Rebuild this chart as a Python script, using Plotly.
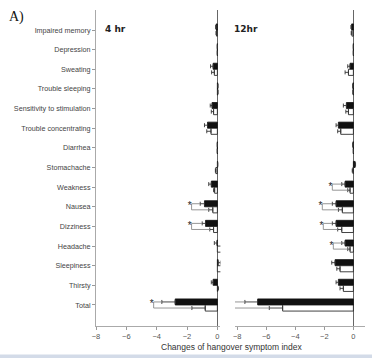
import plotly.graph_objects as go

W, H = 372, 358

categories = ["Impaired memory", "Depression", "Sweating", "Trouble sleeping",
              "Sensitivity to stimulation", "Trouble concentrating", "Diarrhea",
              "Stomachache", "Weakness", "Nausea", "Dizziness", "Headache",
              "Sleepiness", "Thirsty", "Total"]

# 4 hr panel
hr4_black = [-0.08, 0, -0.28, 0.03, -0.35, -0.65, 0, 0.02, -0.40, -0.85, -0.78, -0.02, 0.05, -0.28, -2.78]
hr4_black_err = [0.03, 0, 0.17, 0.0, 0.12, 0.20, 0, 0.0, 0.17, 0.28, 0.22, 0.18, 0.15, 0.12, 0.88]
hr4_white = [-0.06, 0, -0.20, 0.03, -0.25, -0.42, 0, -0.10, -0.18, -0.30, -0.25, 0.35, 0.38, 0.02, -0.80]
hr4_white_err = [0.03, 0, 0.18, 0.0, 0.15, 0.28, 0, 0.03, 0.07, 0.27, 0.25, 0.15, 0.17, 0.05, 0.88]
hr4_sig = {"Nausea": -1.7, "Dizziness": -1.7, "Total": -4.2}

# 12 hr panel
hr12_black = [-0.12, 0, -0.23, -0.03, -0.48, -1.03, -0.03, 0.12, -0.57, -1.19, -1.19, -0.57, -1.26, -1.03, -6.59]
hr12_black_err = [0.05, 0, 0.16, 0.0, 0.21, 0.16, 0, 0.03, 0.23, 0.26, 0.26, 0.23, 0.23, 0.16, 0.88]
hr12_white = [-0.10, 0, -0.34, -0.02, -0.34, -0.87, 0, -0.03, -0.23, -0.76, -0.80, -0.23, -0.92, -0.69, -4.87]
hr12_white_err = [0.05, 0, 0.23, 0.0, 0.18, 0.21, 0, 0.05, 0.16, 0.27, 0.28, 0.16, 0.22, 0.23, 0.92]
hr12_sig = {"Weakness": -1.45, "Nausea": -2.14, "Dizziness": -2.07, "Headache": -1.38, "Total": -8.2}

x_ticks = [-8, -6, -4, -2, 0]
x_title = "Changes of hangover symptom index"

idx = list(range(len(categories)))
BW = 0.31

def err(vals, errs):
    plus = [e if v > 0 else 0 for v, e in zip(vals, errs)]
    minus = [e if v <= 0 else 0 for v, e in zip(vals, errs)]
    return dict(type="data", symmetric=False, array=plus, arrayminus=minus,
                color="#333", thickness=0.9, width=2)

fig = go.Figure()

panels = [("x", "y", hr4_black, hr4_black_err, hr4_white, hr4_white_err, hr4_sig),
          ("x2", "y2", hr12_black, hr12_black_err, hr12_white, hr12_white_err, hr12_sig)]

for xa, ya, bv, be, wv, we, sig in panels:
    fig.add_trace(go.Bar(x=bv, y=idx, orientation="h", width=BW, offset=-BW,
                         marker=dict(color="#111", line=dict(color="#111", width=0.8)),
                         error_x=err(bv, be), xaxis=xa, yaxis=ya, showlegend=False,
                         cliponaxis=False))
    fig.add_trace(go.Bar(x=wv, y=idx, orientation="h", width=BW, offset=0,
                         marker=dict(color="white", line=dict(color="#111", width=0.8)),
                         error_x=err(wv, we), xaxis=xa, yaxis=ya, showlegend=False,
                         cliponaxis=False))
    for cat, bx in sig.items():
        i = categories.index(cat)
        b_end = bv[i] - be[i]
        w_end = wv[i] - we[i]
        fig.add_trace(go.Scatter(x=[b_end, bx, bx, w_end],
                                 y=[i - BW / 2, i - BW / 2, i + BW / 2, i + BW / 2],
                                 mode="lines", line=dict(color="#8a8a8a", width=0.9),
                                 xaxis=xa, yaxis=ya, showlegend=False, cliponaxis=False,
                                 hoverinfo="skip"))
        fig.add_trace(go.Scatter(x=[bx], y=[i], mode="text", text=["*"],
                                 textposition="middle left",
                                 textfont=dict(size=10, color="#222", family="Liberation Sans"),
                                 xaxis=xa, yaxis=ya, showlegend=False, cliponaxis=False,
                                 hoverinfo="skip"))

def px_x(p):
    return p / W

def px_y(p):
    return 1 - p / H

ydom = [px_y(326), px_y(10)]
yrange = [15.07, -1.02]

axis_font = dict(family="Liberation Sans", size=7.5, color="#555")

fig.update_layout(
    width=W, height=H, margin=dict(l=0, r=0, t=0, b=0, autoexpand=False),
    paper_bgcolor="white", plot_bgcolor="white", barmode="overlay",
    xaxis=dict(domain=[px_x(96), px_x(220.4)], range=[-8, 0.2], tickvals=x_ticks,
               ticks="outside", ticklen=3, tickcolor="#999", showline=True,
               linecolor="#aaa", linewidth=1, showgrid=False, zeroline=True,
               zerolinecolor="#666", zerolinewidth=1, tickfont=axis_font, automargin=False),
    xaxis2=dict(domain=[px_x(235), px_x(365)], range=[-8.15, 0.8], tickvals=x_ticks,
                ticks="outside", ticklen=3, tickcolor="#999", showline=True,
                linecolor="#aaa", linewidth=1, showgrid=False, zeroline=True,
                zerolinecolor="#666", zerolinewidth=1, tickfont=axis_font, automargin=False),
    yaxis=dict(domain=ydom, range=yrange, tickvals=idx, ticktext=categories,
               ticks="outside", ticklen=3, tickcolor="#999", showline=True,
               linecolor="#aaa", linewidth=1, showgrid=False, zeroline=False,
               tickfont=dict(family="Liberation Sans", size=7.2, color="#444"),
               anchor="x", automargin=False),
    yaxis2=dict(domain=ydom, range=yrange, tickvals=idx, showticklabels=False,
                ticks="", showline=False, showgrid=False, zeroline=False, anchor="x2",
                automargin=False),
    font=dict(family="Liberation Sans"),
    annotations=[
        dict(text="A)", x=px_x(7), y=px_y(17), xref="paper", yref="paper",
             xanchor="left", yanchor="middle", showarrow=False,
             font=dict(family="Liberation Serif", size=14, color="#111")),
        dict(text="<b>4 hr</b>", x=px_x(103), y=px_y(29), xref="paper", yref="paper",
             xanchor="left", yanchor="middle", showarrow=False,
             font=dict(family="DejaVu Sans", size=9, color="#222")),
        dict(text="<b>12hr</b>", x=px_x(232), y=px_y(29), xref="paper", yref="paper",
             xanchor="left", yanchor="middle", showarrow=False,
             font=dict(family="DejaVu Sans", size=9, color="#222")),
        dict(text=x_title, x=px_x(232), y=px_y(347), xref="paper", yref="paper",
             xanchor="center", yanchor="middle", showarrow=False,
             font=dict(family="Liberation Sans", size=8.5, color="#333")),
    ],
    shapes=[dict(type="rect", xref="paper", yref="paper", x0=0, x1=1,
                 y0=0, y1=px_y(354.5), line=dict(width=0), fillcolor="#d3dbe8")],
)

fig.write_html("out.html", config={"displayModeBar": False},
               post_script="document.body.style.margin='0';document.body.style.overflow='hidden';")
